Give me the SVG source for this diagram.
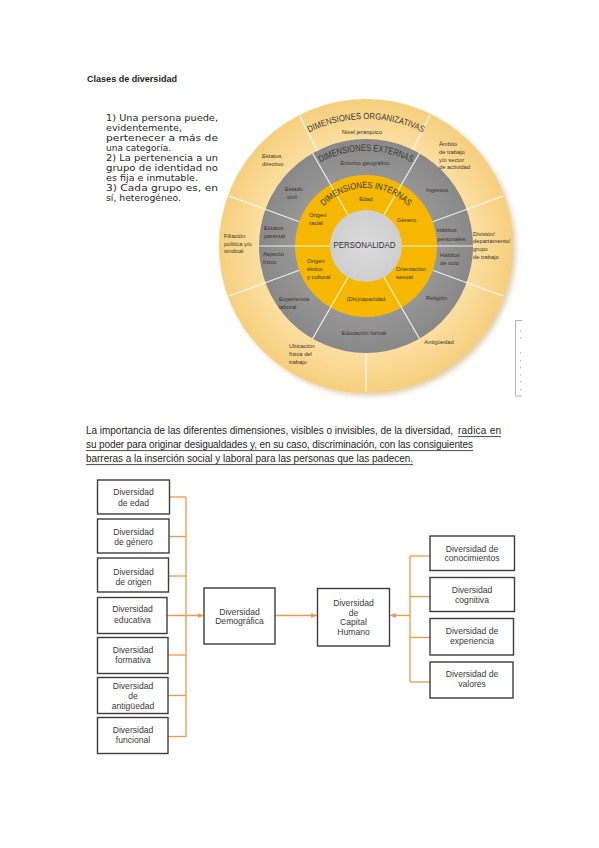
<svg xmlns="http://www.w3.org/2000/svg" width="599" height="848" viewBox="0 0 599 848">
<defs>
<style>
.t{font-family:"DejaVu Sans",sans-serif;font-size:9.4px;fill:#262626}
.p{font-family:"Liberation Sans",Arial,sans-serif;font-size:10px;fill:#1e1e1e}
.lab{font-family:"Liberation Sans",Arial,sans-serif;font-size:5.8px;fill:#3a3328}
.arc{font-family:"Liberation Sans",Arial,sans-serif;fill:#3a3530}
.div{stroke:#ffffff;stroke-width:1.2;stroke-opacity:0.85}
.box{fill:#ffffff;stroke:#3c3c3c;stroke-width:1.4}
.bt{font-family:"Liberation Sans",Arial,sans-serif;font-size:8.6px;fill:#3a3a3a;text-anchor:middle}
.con{stroke:#F79646;stroke-width:1.3;fill:none}
.ul{stroke:#1e1e1e;stroke-width:0.8}
</style>
<radialGradient id="outerG" cx="366" cy="246" r="147" gradientUnits="userSpaceOnUse">
<stop offset="0.72" stop-color="#FCDFA2"/>
<stop offset="1" stop-color="#F6CF7E"/>
</radialGradient>
<radialGradient id="grayG" cx="366" cy="246" r="107" gradientUnits="userSpaceOnUse">
<stop offset="0.66" stop-color="#969696"/>
<stop offset="1" stop-color="#888888"/>
</radialGradient>
<radialGradient id="coreG" cx="366" cy="246" r="36" gradientUnits="userSpaceOnUse">
<stop offset="0" stop-color="#DADADA"/>
<stop offset="1" stop-color="#CFCFCF"/>
</radialGradient>
<filter id="blur" x="-20%" y="-20%" width="140%" height="140%"><feGaussianBlur stdDeviation="2.5"/></filter>
<marker id="arr" viewBox="0 0 10 10" refX="9" refY="5" markerWidth="6" markerHeight="6" orient="auto" markerUnits="userSpaceOnUse">
<path d="M0,1 L10,5 L0,9 z" fill="#F79646"/>
</marker>
<path id="arcOrg" d="M276.2,156.2 A127,127 0 0 1 455.8,156.2"/>
<path id="arcExt" d="M298.8,178.8 A95,95 0 0 1 433.2,178.8"/>
<path id="arcInt" d="M315.8,217 A58,58 0 0 1 416.2,217"/>
</defs>
<rect width="599" height="848" fill="#ffffff"/>

<g id="title">
<text x="87" y="81.5" font-family="Liberation Sans, Arial, sans-serif" font-size="9.5" font-weight="bold" fill="#1e1e1e" textLength="90" lengthAdjust="spacingAndGlyphs">Clases de diversidad</text>
</g>

<g id="lista-clases">
<text class="t" x="106" y="121" textLength="112" lengthAdjust="spacingAndGlyphs">1) Una persona puede,</text>
<text class="t" x="106" y="131" textLength="76" lengthAdjust="spacingAndGlyphs">evidentemente,</text>
<text class="t" x="106" y="141" textLength="112" lengthAdjust="spacingAndGlyphs">pertenecer a más de</text>
<text class="t" x="106" y="151" textLength="65" lengthAdjust="spacingAndGlyphs">una categoría.</text>
<text class="t" x="106" y="161" textLength="112" lengthAdjust="spacingAndGlyphs">2) La pertenencia a un</text>
<text class="t" x="106" y="171" textLength="112" lengthAdjust="spacingAndGlyphs">grupo de identidad no</text>
<text class="t" x="106" y="181" textLength="92" lengthAdjust="spacingAndGlyphs">es fija e inmutable.</text>
<text class="t" x="106" y="191" textLength="112" lengthAdjust="spacingAndGlyphs">3) Cada grupo es, en</text>
<text class="t" x="106" y="201" textLength="75" lengthAdjust="spacingAndGlyphs">sí, heterogéneo.</text>
</g>

<g id="dimensiones-diagrama">
<circle cx="369" cy="249" r="147" fill="#C9A96A" opacity="0.55" filter="url(#blur)"/>
<circle cx="366" cy="246" r="147" fill="url(#outerG)"/>
<circle cx="366" cy="246" r="107" fill="url(#grayG)"/>
<circle cx="366" cy="246" r="71" fill="#F5B700"/>
<circle cx="366" cy="246" r="36" fill="url(#coreG)"/>
<g id="divisores">
<line class="div" x1="402" y1="246" x2="473" y2="246"/>
<line class="div" x1="384" y1="277.2" x2="419.5" y2="338.7"/>
<line class="div" x1="348" y1="277.2" x2="312.5" y2="338.7"/>
<line class="div" x1="330" y1="246" x2="259" y2="246"/>
<line class="div" x1="348" y1="214.8" x2="312.5" y2="153.3"/>
<line class="div" x1="384" y1="214.8" x2="419.5" y2="153.3"/>
<line class="div" x1="432.7" y1="270.3" x2="503.2" y2="296"/>
<line class="div" x1="432.7" y1="221.7" x2="503.2" y2="196"/>
<line class="div" x1="299.3" y1="270.3" x2="228.8" y2="296"/>
<line class="div" x1="299.3" y1="221.7" x2="228.8" y2="196"/>
<line class="div" x1="317.4" y1="150.7" x2="299.7" y2="115.9"/>
<line class="div" x1="412.9" y1="149.8" x2="430" y2="114.8"/>
<line class="div" x1="366" y1="353" x2="366" y2="392"/>
</g>
<g id="titulos-anillos">
<text class="arc" font-size="9"><textPath href="#arcOrg" startOffset="50%" text-anchor="middle" textLength="118" lengthAdjust="spacingAndGlyphs">DIMENSIONES ORGANIZATIVAS</textPath></text>
<text class="arc" font-size="9.5"><textPath href="#arcExt" startOffset="50%" text-anchor="middle" textLength="95" lengthAdjust="spacingAndGlyphs">DIMENSIONES EXTERNAS</textPath></text>
<text class="arc" font-size="9"><textPath href="#arcInt" startOffset="50%" text-anchor="middle" textLength="94" lengthAdjust="spacingAndGlyphs">DIMENSIONES INTERNAS</textPath></text>
</g>
<g id="dim-organizativas">
<text class="lab" x="362" y="134" text-anchor="middle">Nivel jerárquico</text>
<text class="lab" x="262" y="158">Estatus</text>
<text class="lab" x="262" y="165.5">directivo</text>
<text class="lab" x="439" y="145.5">Ámbito</text>
<text class="lab" x="439" y="154">de trabajo</text>
<text class="lab" x="439" y="161.5">y/o sector</text>
<text class="lab" x="439" y="169">de actividad</text>
<text class="lab" x="473" y="235.5">División/</text>
<text class="lab" x="473" y="243">departamento/</text>
<text class="lab" x="473" y="251">grupo</text>
<text class="lab" x="473" y="259">de trabajo</text>
<text class="lab" x="224" y="238">Filiación</text>
<text class="lab" x="224" y="246">política y/o</text>
<text class="lab" x="224" y="253">sindical</text>
<text class="lab" x="289" y="348">Ubicación</text>
<text class="lab" x="289" y="356">física del</text>
<text class="lab" x="289" y="364">trabajo</text>
<text class="lab" x="439" y="344" text-anchor="middle">Antigüedad</text>
</g>
<g id="dim-externas">
<text class="lab" x="365" y="164.5" text-anchor="middle">Entorno geográfico</text>
<text class="lab" x="294" y="191" text-anchor="middle">Estado</text>
<text class="lab" x="292" y="198.5" text-anchor="middle">civil</text>
<text class="lab" x="437" y="192" text-anchor="middle">Ingresos</text>
<text class="lab" x="264" y="229.5">Estatus</text>
<text class="lab" x="264" y="238">parental</text>
<text class="lab" x="437" y="232">Hábitos</text>
<text class="lab" x="437" y="240.5">personales</text>
<text class="lab" x="440" y="257">Hábitos</text>
<text class="lab" x="440" y="265">de ocio</text>
<text class="lab" x="436.5" y="299.5" text-anchor="middle">Religión</text>
<text class="lab" x="364" y="335" text-anchor="middle">Educación formal</text>
<text class="lab" x="279" y="301">Experiencia</text>
<text class="lab" x="279" y="309">laboral</text>
<text class="lab" x="263" y="256">Aspecto</text>
<text class="lab" x="263" y="264">físico</text>
</g>
<g id="dim-internas">
<text class="lab" x="366" y="200.5" text-anchor="middle">Edad</text>
<text class="lab" x="406.5" y="221.5" text-anchor="middle">Género</text>
<text class="lab" x="396" y="271">Orientación</text>
<text class="lab" x="396" y="279">sexual</text>
<text class="lab" x="366" y="301" text-anchor="middle">(Dis)capacidad</text>
<text class="lab" x="307" y="263">Origen</text>
<text class="lab" x="307" y="270.5">étnico</text>
<text class="lab" x="307" y="279">y cultural</text>
<text class="lab" x="309" y="217">Origen</text>
<text class="lab" x="309" y="225">racial</text>
</g>
<g id="personalidad">
<text x="364.5" y="247.8" text-anchor="middle" font-family="Liberation Sans, Arial, sans-serif" font-size="8.6" fill="#333333" textLength="62" lengthAdjust="spacingAndGlyphs">PERSONALIDAD</text>
</g>
<g id="marco-recortado" fill="#b8b8b8">
<path d="M522,320.5 H515.5 V396 H522" fill="none" stroke="#b5b5b5" stroke-width="1"/>
<rect x="520" y="330" width="1" height="1.5"/>
<rect x="520" y="337" width="1" height="1.5"/>
<rect x="520" y="352" width="1" height="1.5"/>
<rect x="520" y="360" width="1" height="1.5"/>
<rect x="520" y="367" width="1" height="1.5"/>
<rect x="520" y="374" width="1" height="1.5"/>
<rect x="520" y="381" width="1" height="1.5"/>
<rect x="520" y="389" width="1" height="1.5"/>
</g>
</g>

<g id="parrafo">
<text class="p" x="86" y="434" textLength="367" lengthAdjust="spacing">La importancia de las diferentes dimensiones, visibles o invisibles, de la diversidad,</text>
<text class="p" x="458" y="434" textLength="43" lengthAdjust="spacing">radica en</text>
<text class="p" x="86" y="448" textLength="387" lengthAdjust="spacing">su poder para originar desigualdades y, en su caso, discriminación, con las consiguientes</text>
<text class="p" x="86" y="462" textLength="327" lengthAdjust="spacing">barreras a la inserción social y laboral para las personas que las padecen.</text>
<line class="ul" x1="458" y1="436.6" x2="501" y2="436.6"/>
<line class="ul" x1="86" y1="450.6" x2="473" y2="450.6"/>
<line class="ul" x1="86" y1="464.6" x2="413" y2="464.6"/>
</g>

<g id="conectores">
<line class="con" x1="186" y1="497" x2="186" y2="737"/>
<line class="con" x1="169" y1="497" x2="186" y2="497"/>
<line class="con" x1="169" y1="536.5" x2="186" y2="536.5"/>
<line class="con" x1="169" y1="576" x2="186" y2="576"/>
<line class="con" x1="168" y1="655" x2="186" y2="655"/>
<line class="con" x1="168" y1="695.5" x2="186" y2="695.5"/>
<line class="con" x1="168" y1="736.5" x2="186" y2="736.5"/>
<line class="con" x1="167" y1="615.5" x2="203" y2="615.5" marker-end="url(#arr)"/>
<line class="con" x1="275" y1="615.5" x2="316.5" y2="615.5" marker-end="url(#arr)"/>
<line class="con" x1="410" y1="556" x2="410" y2="682"/>
<line class="con" x1="410" y1="615.5" x2="390.5" y2="615.5" marker-end="url(#arr)"/>
<line class="con" x1="410" y1="556" x2="430" y2="556"/>
<line class="con" x1="410" y1="596.5" x2="430" y2="596.5"/>
<line class="con" x1="410" y1="637.5" x2="430" y2="637.5"/>
<line class="con" x1="410" y1="682" x2="430" y2="682"/>
</g>

<g id="div-edad">
<rect class="box" x="97.5" y="480" width="72" height="34"/>
<text class="bt" x="133.5" y="495">Diversidad</text>
<text class="bt" x="133.5" y="505.5">de edad</text>
</g>
<g id="div-genero">
<rect class="box" x="97.5" y="519" width="71.5" height="34"/>
<text class="bt" x="133.5" y="534.5">Diversidad</text>
<text class="bt" x="133.5" y="544.5">de género</text>
</g>
<g id="div-origen">
<rect class="box" x="97.5" y="558" width="71" height="34"/>
<text class="bt" x="133.5" y="574.5">Diversidad</text>
<text class="bt" x="133.5" y="584.5">de origen</text>
</g>
<g id="div-educativa">
<rect class="box" x="97.5" y="597.5" width="69.5" height="36"/>
<text class="bt" x="132.5" y="612">Diversidad</text>
<text class="bt" x="132.5" y="622.5">educativa</text>
</g>
<g id="div-formativa">
<rect class="box" x="97.5" y="637.5" width="70.5" height="36"/>
<text class="bt" x="133" y="653">Diversidad</text>
<text class="bt" x="133" y="663">formativa</text>
</g>
<g id="div-antiguedad">
<rect class="box" x="97.5" y="677.5" width="70.5" height="36"/>
<text class="bt" x="133" y="689">Diversidad</text>
<text class="bt" x="133" y="699">de</text>
<text class="bt" x="133" y="709">antigüedad</text>
</g>
<g id="div-funcional">
<rect class="box" x="97.5" y="717.5" width="70.5" height="36"/>
<text class="bt" x="133" y="733">Diversidad</text>
<text class="bt" x="133" y="742.5">funcional</text>
</g>
<g id="div-demografica">
<rect class="box" x="204" y="588" width="71" height="56"/>
<text class="bt" x="239.5" y="614.5">Diversidad</text>
<text class="bt" x="239.5" y="624">Demográfica</text>
</g>
<g id="div-capital-humano">
<rect class="box" x="317.5" y="588.5" width="72" height="57.5"/>
<text class="bt" x="353.5" y="606">Diversidad</text>
<text class="bt" x="353.5" y="615.5">de</text>
<text class="bt" x="353.5" y="624.5">Capital</text>
<text class="bt" x="353.5" y="634.5">Humano</text>
</g>
<g id="div-conocimientos">
<rect class="box" x="430" y="536" width="84.5" height="34.5"/>
<text class="bt" x="472" y="552">Diversidad de</text>
<text class="bt" x="472" y="561">conocimientos</text>
</g>
<g id="div-cognitiva">
<rect class="box" x="430" y="577.5" width="84.5" height="34"/>
<text class="bt" x="472" y="593">Diversidad</text>
<text class="bt" x="472" y="603">cognitiva</text>
</g>
<g id="div-experiencia">
<rect class="box" x="430" y="618.5" width="83.5" height="36.5"/>
<text class="bt" x="472" y="634">Diversidad de</text>
<text class="bt" x="472" y="644">experiencia</text>
</g>
<g id="div-valores">
<rect class="box" x="430" y="662" width="83" height="36"/>
<text class="bt" x="472" y="677">Diversidad de</text>
<text class="bt" x="472" y="687">valores</text>
</g>
</svg>
